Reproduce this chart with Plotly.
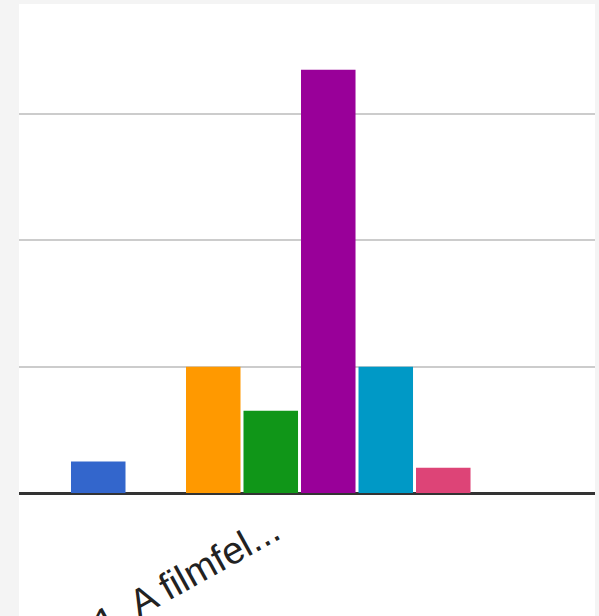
import plotly.graph_objects as go

categories = ["1. A filmfel..."]
series_names = ["S1", "S2", "S3", "S4", "S5", "S6", "S7", "S8"]
series_values = [5, 0, 20, 13, 67, 20, 4, 0]
series_colors = ["#3366cc", "#dc3912", "#ff9900", "#109618", "#990099", "#0099c6", "#dd4477", "#66aa00"]

fig = go.Figure()
for name, val, col in zip(series_names, series_values, series_colors):
    fig.add_trace(go.Bar(x=categories, y=[val], name=name, marker=dict(color=col, line=dict(width=0)),
                         hoverinfo="skip"))

W, H = 599, 616
ml, mr, mt, mb = 19, 4, 4, 123
plot_h = H - mt - mb

fig.update_layout(
    width=W, height=H, autosize=False,
    margin=dict(l=ml, r=mr, t=mt, b=mb, pad=0, autoexpand=False),
    barmode="group", bargap=0.18, bargroupgap=0.052,
    showlegend=False,
    paper_bgcolor="#f4f4f4",
    plot_bgcolor="white",
    xaxis=dict(range=[-0.5, 0.5267], showgrid=False, zeroline=False, showline=False,
               automargin=False,
               ticks="", tickangle=-29,
               tickfont=dict(family="Arial, Liberation Sans, sans-serif", size=38, color="#222222"),
               ticklabelstandoff=8, ticklabelshift=-26),
    yaxis=dict(range=[0, 77.4], dtick=20, showticklabels=False, gridcolor="#cccccc", gridwidth=2,
               automargin=False,
               zeroline=True, zerolinecolor="#333333", zerolinewidth=3, showline=False),
    shapes=[dict(type="rect", xref="paper", yref="paper", x0=0, x1=1, y0=-mb / plot_h, y1=1,
                 fillcolor="white", line=dict(width=0), layer="below")],
)

fig.write_html("out.html", config={"displayModeBar": False},
               post_script="document.body.style.margin='0';document.body.style.padding='0';")
